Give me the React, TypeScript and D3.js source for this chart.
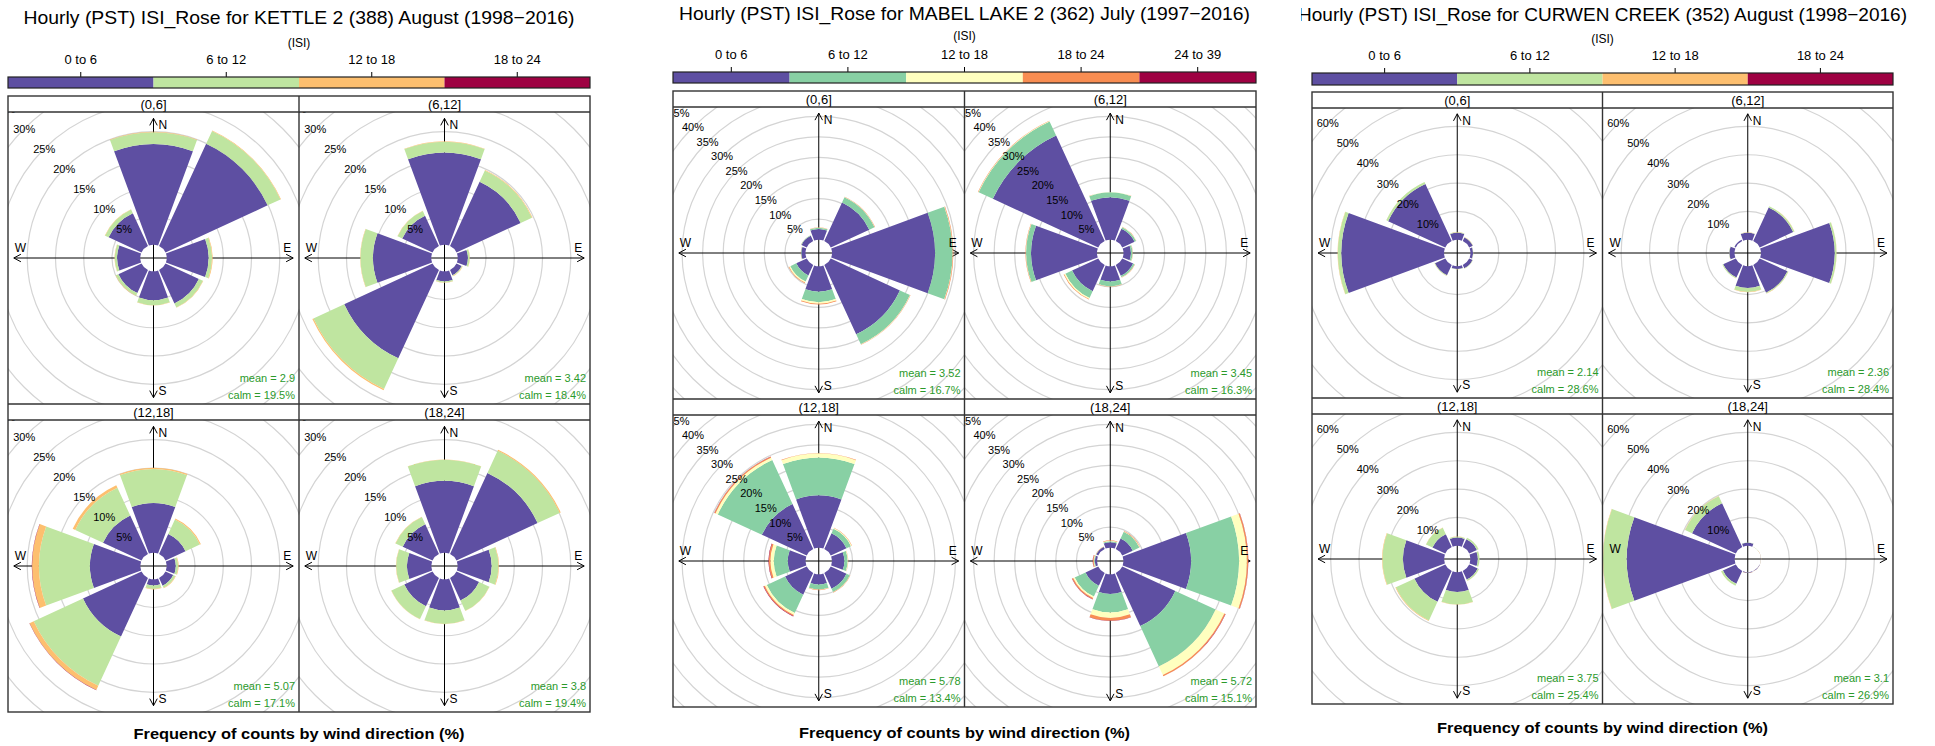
import React from "react";
import * as d3 from "d3";

const FONT = "'Liberation Sans', Arial, Helvetica, sans-serif";

// Compass bearings of the eight direction sectors (N, NE, E, SE, S, SW, W, NW)
const directionDeg = [0, 45, 90, 135, 180, 225, 270, 315];
const directionNames = ["N", "NE", "E", "SE", "S", "SW", "W", "NW"];
const periods = ["(0,6]", "(6,12]", "(12,18]", "(18,24]"];

// ISI classes and their colours
const isiBins4 = ["0 to 6", "6 to 12", "12 to 18", "18 to 24"];
const isiBins5 = ["0 to 6", "6 to 12", "12 to 18", "18 to 24", "24 to 39"];
const palette4 = ["#5E4FA2", "#BFE5A0", "#FDBF6F", "#9E0142"];
const palette5 = ["#5E4FA2", "#88D0A4", "#FFFFBF", "#F88D52", "#9E0142"];

// Frequency (%) per hour block -> direction (N..NW) -> ISI class
const kettleFreq = [
  [[17.8, 2.1, 0.1, 0], [19.9, 2.5, 0.1, 0], [7.4, 0.6, 0.1, 0], [6.5, 0.8, 0.05, 0], [5.1, 0.9, 0.05, 0], [4.5, 0.5, 0.05, 0], [4.1, 0.4, 0.05, 0], [6.4, 0.7, 0.05, 0]],
  [[16.3, 1.9, 0.05, 0], [12.5, 2.2, 0.1, 0], [1.8, 0.3, 0.05, 0], [1.0, 0.15, 0.05, 0], [1.8, 0.2, 0.05, 0], [17.2, 6.0, 0.2, 0], [10.3, 2.2, 0.05, 0], [5.9, 0.9, 0.05, 0]],
  [[8.8, 6.0, 0.2, 0], [3.9, 2.8, 0.2, 0], [1.6, 0.4, 0.1, 0], [1.5, 0.4, 0.1, 0], [1.1, 0.6, 0.1, 0], [11.4, 9.6, 0.8, 0.05], [8.9, 9.0, 1.2, 0.05], [7.5, 5.4, 0.5, 0]],
  [[12.7, 3.7, 0.05, 0], [15.8, 4.3, 0.2, 0], [6.0, 1.2, 0.1, 0], [4.4, 2.0, 0.05, 0], [5.5, 2.4, 0.05, 0], [5.5, 2.5, 0.05, 0], [4.3, 1.9, 0.05, 0], [5.8, 1.4, 0.05, 0]],
];
const kettleMean = [2.9, 3.42, 5.07, 3.8];
const kettleCalm = [19.5, 18.4, 17.1, 19.4];

const mabelFreq = [
  [[2.6, 0.3, 0.05, 0.05, 0], [10.3, 1.4, 0.05, 0.1, 0], [25.0, 4.3, 0.05, 0.15, 0], [18.5, 2.7, 0.05, 0.1, 0], [6.2, 2.5, 0.4, 0.15, 0], [2.8, 1.6, 0.3, 0.15, 0], [1.0, 0.1, 0, 0.05, 0], [1.4, 0.1, 0, 0.05, 0]],
  [[10.3, 1.2, 0.05, 0.05, 0], [3.3, 0.4, 0.05, 0.05, 0], [1.8, 0.4, 0.05, 0.05, 0], [2.9, 0.4, 0.05, 0.05, 0], [3.7, 1.2, 0.05, 0.05, 0], [7.0, 1.8, 0.3, 0.15, 0], [16.0, 1.2, 0.05, 0.1, 0], [28.2, 3.8, 0.1, 0.1, 0]],
  [[12.7, 9.2, 1.0, 0.1, 0], [4.2, 1.2, 0.2, 0.1, 0], [3.0, 0.8, 0.1, 0.05, 0], [4.2, 0.9, 0.05, 0.1, 0], [2.5, 1.2, 0.05, 0.1, 0], [5.8, 4.9, 0.5, 0.3, 0.1], [4.3, 3.4, 0.8, 0.4, 0.1], [12.0, 11.8, 0.6, 0.3, 0.05]],
  [[1.3, 0.3, 0.1, 0.1, 0], [2.8, 1.8, 0.1, 0.1, 0], [16.4, 11.7, 1.9, 0.3, 0.05], [14.2, 10.8, 2.3, 0.3, 0.05], [4.8, 4.5, 1.3, 0.7, 0.05], [3.4, 2.9, 0.4, 0.3, 0.05], [0.5, 0.2, 0.1, 0.2, 0.05], [0.5, 0.1, 0, 0.05, 0]],
];
const mabelMean = [3.52, 3.45, 5.78, 5.72];
const mabelCalm = [16.7, 16.3, 13.4, 15.1];

const curwenFreq = [
  [[2.5, 0.15, 0.05, 0], [1.4, 0.1, 0.02, 0], [0.9, 0.1, 0.02, 0], [1.3, 0.1, 0.02, 0], [1.0, 0.1, 0.02, 0], [4.0, 0.2, 0.05, 0], [36.2, 1.2, 0.1, 0], [22.2, 0.7, 0.05, 0]],
  [[2.5, 0.1, 0.02, 0], [13.0, 0.5, 0.05, 0], [26.0, 0.6, 0.05, 0], [10.8, 0.3, 0.05, 0], [7.7, 1.4, 0.05, 0], [4.9, 0.3, 0.02, 0], [1.8, 0.1, 0.02, 0], [0.5, 0.02, 0, 0]],
  [[2.9, 0.3, 0.05, 0], [3.0, 0.6, 0.05, 0], [2.6, 0.6, 0.02, 0], [3.3, 0.5, 0.05, 0], [7.0, 4.4, 0.1, 0], [12.0, 7.2, 0.2, 0], [14.5, 7.2, 0.15, 0], [5.0, 2.5, 0.05, 0]],
  [[1.1, 0.05, 0.05, 0], [0.05, 0.02, 0.05, 0], [0.05, 0.02, 0.05, 0], [0.1, 0.02, 0.05, 0], [0.2, 0.05, 0.05, 0], [5.0, 0.7, 0.05, 0], [38.0, 8.4, 0.1, 0], [17.0, 2.7, 0.1, 0]],
];
const curwenMean = [2.14, 2.36, 3.75, 3.1];
const curwenCalm = [28.6, 28.4, 25.4, 26.9];

const titles = [
  "Hourly (PST) ISI_Rose for KETTLE 2 (388) August (1998\u22122016)",
  "Hourly (PST) ISI_Rose for MABEL LAKE 2 (362) July (1997\u22122016)",
  "Hourly (PST) ISI_Rose for CURWEN CREEK (352) August (1998\u22122016)",
];

// Page geometry of each station block
const layouts = [
  { left: 8, top: 96, width: 582, cellH: 292, stripH: 16, barY: 77, barH: 11, titleY: 17, titleW: 551, isiY: 43, binY: 59, footY: 733 },
  { left: 673, top: 91, width: 583, cellH: 292, stripH: 16, barY: 72, barH: 11, titleY: 13, titleW: 571, isiY: 36, binY: 54, footY: 732 },
  { left: 1312, top: 92, width: 581, cellH: 290, stripH: 16, barY: 73, barH: 12, titleY: 14, titleW: 609, isiY: 39, binY: 55, footY: 727, clipLeft: 1301 },
];

const stations = [
  { id: "kettle", title: titles[0], bins: isiBins4, colors: palette4, freq: kettleFreq, mean: kettleMean, calm: kettleCalm, layout: layouts[0] },
  { id: "mabel", title: titles[1], bins: isiBins5, colors: palette5, freq: mabelFreq, mean: mabelMean, calm: mabelCalm, layout: layouts[1] },
  { id: "curwen", title: titles[2], bins: isiBins4, colors: palette4, freq: curwenFreq, mean: curwenMean, calm: curwenCalm, layout: layouts[2] },
];

const SEG = 0.9; // sector width as a share of 45 degrees
const toRad = (deg: number) => (deg * Math.PI) / 180;

function Rose({ st, p, cellX, cellY, cellW, cellH, maxFreq }: any) {
  const cx = cellX + cellW / 2;
  const cy = cellY + cellH / 2;
  const half = Math.min(cellW, cellH) / 2;
  const off = 0.1 * maxFreq;
  const r = d3.scaleLinear().domain([0, maxFreq + off]).range([0, half]);
  const step = d3.tickStep(0, 2 * maxFreq, 10);
  const ringVals = d3.range(step, 2 * maxFreq + step * 1e-6, step);
  const arc = d3.arc<any>();
  const clipId = `clip-${st.id}-${p}`;
  const tip = 0.96 * half;
  const head = 8;

  const arrow = (dx: number, dy: number) => {
    const tx = cx + dx * tip;
    const ty = cy + dy * tip;
    const a = Math.atan2(dy, dx);
    const a1 = a + Math.PI - toRad(28);
    const a2 = a + Math.PI + toRad(28);
    return `M${tx + head * Math.cos(a1)},${ty + head * Math.sin(a1)}L${tx},${ty}L${tx + head * Math.cos(a2)},${ty + head * Math.sin(a2)}`;
  };

  const half45 = (45 * SEG) / 2;
  const bars: any[] = [];
  st.freq[p].forEach((vals: number[], i: number) => {
    let acc = 0;
    vals.forEach((v: number, j: number) => {
      if (v <= 0) return;
      const d = arc({
        innerRadius: r(acc + off),
        outerRadius: r(acc + v + off),
        startAngle: toRad(directionDeg[i] - half45),
        endAngle: toRad(directionDeg[i] + half45),
      });
      bars.push(<path key={`${directionNames[i]}-${j}`} d={d || ""} transform={`translate(${cx},${cy})`} fill={st.colors[j]} />);
      acc += v;
    });
  });

  return (
    <g>
      <defs>
        <clipPath id={clipId}>
          <rect x={cellX} y={cellY} width={cellW} height={cellH} />
        </clipPath>
      </defs>
      <g clipPath={`url(#${clipId})`}>
        {ringVals.map((v) => (
          <circle key={`ring${v}`} cx={cx} cy={cy} r={r(v + off)} fill="none" stroke="#d4d4d4" strokeWidth={1.2} />
        ))}
        <line x1={cx - tip} y1={cy} x2={cx + tip} y2={cy} stroke="#000" strokeWidth={1} />
        <line x1={cx} y1={cy - tip} x2={cx} y2={cy + tip} stroke="#000" strokeWidth={1} />
        <path d={arrow(0, -1)} fill="none" stroke="#000" strokeWidth={1} />
        <path d={arrow(0, 1)} fill="none" stroke="#000" strokeWidth={1} />
        <path d={arrow(-1, 0)} fill="none" stroke="#000" strokeWidth={1} />
        <path d={arrow(1, 0)} fill="none" stroke="#000" strokeWidth={1} />
        {bars}
        {ringVals.map((v) => {
          const rr = r(v + off);
          return (
            <text key={`lab${v}`} x={cx - rr * Math.SQRT1_2} y={cy - rr * Math.SQRT1_2} fontSize={11} fontFamily={FONT}
              textAnchor="middle" dominantBaseline="central" fill="#000">{`${v}%`}</text>
          );
        })}
        <text x={cx + 5} y={cy - tip + 7} fontSize={12} fontFamily={FONT} dominantBaseline="central">N</text>
        <text x={cx + 5} y={cy + tip - 7} fontSize={12} fontFamily={FONT} dominantBaseline="central">S</text>
        <text x={cx - tip + 1} y={cy - 10} fontSize={12} fontFamily={FONT} dominantBaseline="central">W</text>
        <text x={cx + tip - 2} y={cy - 10} fontSize={12} fontFamily={FONT} textAnchor="end" dominantBaseline="central">E</text>
        <text x={cellX + cellW - 4} y={cellY + cellH - 26} fontSize={11} fontFamily={FONT} textAnchor="end"
          dominantBaseline="central" fill="#2b9a2b">{`mean = ${st.mean[p]}`}</text>
        <text x={cellX + cellW - 4} y={cellY + cellH - 9} fontSize={11} fontFamily={FONT} textAnchor="end"
          dominantBaseline="central" fill="#2b9a2b">{`calm = ${st.calm[p]}%`}</text>
      </g>
    </g>
  );
}

function Station({ st }: any) {
  const L = st.layout;
  const cellW = L.width / 2;
  const totals = st.freq.flatMap((block: number[][]) => block.map((d: number[]) => d3.sum(d)));
  const maxFreq = d3.max(totals) as number;
  const band = d3.scaleBand().domain(st.bins).range([L.left, L.left + L.width]).padding(0);
  const cx = L.left + L.width / 2;
  const frameH = 2 * (L.stripH + L.cellH);
  const titleClip = `title-${st.id}`;

  return (
    <g>
      {L.clipLeft !== undefined && (
        <defs>
          <clipPath id={titleClip}>
            <rect x={L.clipLeft} y={0} width={1935 - L.clipLeft} height={40} />
          </clipPath>
        </defs>
      )}
      <text x={cx} y={L.titleY} fontSize={19} fontFamily={FONT} textAnchor="middle" dominantBaseline="central"
        textLength={L.titleW} lengthAdjust="spacingAndGlyphs"
        clipPath={L.clipLeft !== undefined ? `url(#${titleClip})` : undefined}>{st.title}</text>
      <text x={cx} y={L.isiY} fontSize={12} fontFamily={FONT} textAnchor="middle" dominantBaseline="central">(ISI)</text>

      {/* colour key */}
      {st.bins.map((b: string, j: number) => (
        <g key={b}>
          <rect x={band(b)} y={L.barY} width={band.bandwidth()} height={L.barH} fill={st.colors[j]} />
          <line x1={(band(b) as number) + band.bandwidth() / 2} x2={(band(b) as number) + band.bandwidth() / 2}
            y1={L.barY - 5} y2={L.barY} stroke="#000" strokeWidth={1} />
          <text x={(band(b) as number) + band.bandwidth() / 2} y={L.binY} fontSize={13} fontFamily={FONT}
            textAnchor="middle" dominantBaseline="central">{b}</text>
        </g>
      ))}
      <rect x={L.left} y={L.barY} width={L.width} height={L.barH} fill="none" stroke="#222" strokeWidth={1.2} />

      {/* roses */}
      {periods.map((per, p) => {
        const col = p % 2;
        const row = Math.floor(p / 2);
        const cellX = L.left + col * cellW;
        const stripY = L.top + row * (L.stripH + L.cellH);
        const cellY = stripY + L.stripH;
        return (
          <g key={per}>
            <Rose st={st} p={p} cellX={cellX} cellY={cellY} cellW={cellW} cellH={L.cellH} maxFreq={maxFreq} />
            <text x={cellX + cellW / 2} y={stripY + L.stripH / 2 + 0.5} fontSize={13} fontFamily={FONT}
              textAnchor="middle" dominantBaseline="central">{per}</text>
          </g>
        );
      })}

      {/* panel frame and strip rules */}
      <g fill="none" stroke="#333" strokeWidth={1.4}>
        <rect x={L.left} y={L.top} width={L.width} height={frameH} />
        <line x1={L.left + cellW} x2={L.left + cellW} y1={L.top} y2={L.top + frameH} />
        <line x1={L.left} x2={L.left + L.width} y1={L.top + L.stripH} y2={L.top + L.stripH} />
        <line x1={L.left} x2={L.left + L.width} y1={L.top + L.stripH + L.cellH} y2={L.top + L.stripH + L.cellH} />
        <line x1={L.left} x2={L.left + L.width} y1={L.top + 2 * L.stripH + L.cellH} y2={L.top + 2 * L.stripH + L.cellH} />
      </g>

      <text x={cx} y={L.footY} fontSize={15.5} fontWeight="bold" fontFamily={FONT} textAnchor="middle"
        dominantBaseline="central" textLength={331} lengthAdjust="spacingAndGlyphs">
        Frequency of counts by wind direction (%)
      </text>
    </g>
  );
}

export default function App() {
  return (
    <svg width={1935} height={746} viewBox="0 0 1935 746"
      style={{ position: "absolute", left: 0, top: 0, background: "#fff" }}>
      <rect x={0} y={0} width={1935} height={746} fill="#fff" />
      {stations.map((st) => (
        <Station key={st.id} st={st} />
      ))}
    </svg>
  );
}
